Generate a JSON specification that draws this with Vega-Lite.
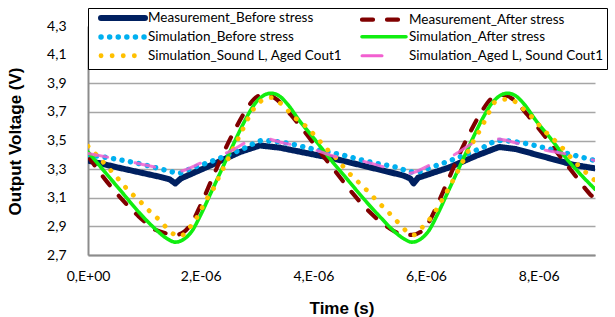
{
  "$schema": "https://vega.github.io/schema/vega-lite/v6.json",
  "width": 507,
  "height": 229,
  "autosize": {"type": "none"},
  "padding": {"left": 88, "top": 26, "right": 20, "bottom": 62},
  "background": "white",
  "config": {"view": {"stroke": null}, "font": "Lato"},
  "datasets": {
    "mb": [
      {"t": 0, "v": 3.36}, {"t": 0.6e-6, "v": 3.305}, {"t": 1.28e-6, "v": 3.246}, {"t": 1.45e-6, "v": 3.228}, {"t": 1.55e-6, "v": 3.2}, {"t": 1.65e-6, "v": 3.235}, {"t": 2.2e-6, "v": 3.33}, {"t": 2.7e-6, "v": 3.42}, {"t": 3.05e-6, "v": 3.465}, {"t": 3.4e-6, "v": 3.45}, {"t": 4.35e-6, "v": 3.375}, {"t": 5.24e-6, "v": 3.29}, {"t": 5.6e-6, "v": 3.255}, {"t": 5.72e-6, "v": 3.235}, {"t": 5.78e-6, "v": 3.2}, {"t": 5.86e-6, "v": 3.24}, {"t": 6.4e-6, "v": 3.31}, {"t": 6.9e-6, "v": 3.395}, {"t": 7.3e-6, "v": 3.455}, {"t": 7.6e-6, "v": 3.44}, {"t": 8.62e-6, "v": 3.33}, {"t": 9e-6, "v": 3.305}
    ],
    "ma": [
      {"t": 0, "v": 3.39}, {"t": 0.3e-6, "v": 3.23}, {"t": 0.6e-6, "v": 3.09}, {"t": 0.9e-6, "v": 2.97}, {"t": 1.2e-6, "v": 2.875}, {"t": 1.4e-6, "v": 2.85}, {"t": 1.55e-6, "v": 2.84}, {"t": 1.7e-6, "v": 2.86}, {"t": 1.85e-6, "v": 2.93}, {"t": 2.0e-6, "v": 3.05}, {"t": 2.2e-6, "v": 3.23}, {"t": 2.4e-6, "v": 3.41}, {"t": 2.6e-6, "v": 3.57}, {"t": 2.8e-6, "v": 3.71}, {"t": 2.95e-6, "v": 3.79}, {"t": 3.1e-6, "v": 3.82}, {"t": 3.25e-6, "v": 3.81}, {"t": 3.4e-6, "v": 3.77}, {"t": 3.6e-6, "v": 3.68}, {"t": 3.85e-6, "v": 3.56}, {"t": 4.1e-6, "v": 3.43}, {"t": 4.4e-6, "v": 3.28}, {"t": 4.7e-6, "v": 3.13}, {"t": 5.0e-6, "v": 3.0}, {"t": 5.3e-6, "v": 2.9}, {"t": 5.5e-6, "v": 2.855}, {"t": 5.75e-6, "v": 2.84}, {"t": 5.9e-6, "v": 2.86}, {"t": 6.05e-6, "v": 2.93}, {"t": 6.2e-6, "v": 3.05}, {"t": 6.4e-6, "v": 3.23}, {"t": 6.6e-6, "v": 3.41}, {"t": 6.8e-6, "v": 3.57}, {"t": 7.0e-6, "v": 3.71}, {"t": 7.15e-6, "v": 3.79}, {"t": 7.3e-6, "v": 3.82}, {"t": 7.45e-6, "v": 3.81}, {"t": 7.6e-6, "v": 3.77}, {"t": 7.8e-6, "v": 3.68}, {"t": 8.05e-6, "v": 3.56}, {"t": 8.3e-6, "v": 3.43}, {"t": 8.6e-6, "v": 3.28}, {"t": 8.9e-6, "v": 3.13}, {"t": 9e-6, "v": 3.09}
    ],
    "sb": [
      {"t": 0, "v": 3.4}, {"t": 0.5e-6, "v": 3.37}, {"t": 1.0e-6, "v": 3.33}, {"t": 1.3e-6, "v": 3.3}, {"t": 1.5e-6, "v": 3.28}, {"t": 1.6e-6, "v": 3.27}, {"t": 1.8e-6, "v": 3.3}, {"t": 2.3e-6, "v": 3.37}, {"t": 2.8e-6, "v": 3.45}, {"t": 3.1e-6, "v": 3.5}, {"t": 3.4e-6, "v": 3.49}, {"t": 4.0e-6, "v": 3.44}, {"t": 4.5e-6, "v": 3.4}, {"t": 5.0e-6, "v": 3.35}, {"t": 5.5e-6, "v": 3.31}, {"t": 5.75e-6, "v": 3.28}, {"t": 5.85e-6, "v": 3.28}, {"t": 6.0e-6, "v": 3.3}, {"t": 6.5e-6, "v": 3.37}, {"t": 7.0e-6, "v": 3.45}, {"t": 7.3e-6, "v": 3.5}, {"t": 7.6e-6, "v": 3.49}, {"t": 8.2e-6, "v": 3.44}, {"t": 8.6e-6, "v": 3.4}, {"t": 9e-6, "v": 3.36}
    ],
    "sa": [
      {"t": 0, "v": 3.42}, {"t": 0.3e-6, "v": 3.28}, {"t": 0.6e-6, "v": 3.14}, {"t": 0.9e-6, "v": 3.0}, {"t": 1.2e-6, "v": 2.88}, {"t": 1.4e-6, "v": 2.815}, {"t": 1.55e-6, "v": 2.79}, {"t": 1.7e-6, "v": 2.81}, {"t": 1.85e-6, "v": 2.87}, {"t": 2.0e-6, "v": 2.98}, {"t": 2.2e-6, "v": 3.15}, {"t": 2.4e-6, "v": 3.32}, {"t": 2.6e-6, "v": 3.49}, {"t": 2.8e-6, "v": 3.65}, {"t": 2.95e-6, "v": 3.75}, {"t": 3.1e-6, "v": 3.81}, {"t": 3.25e-6, "v": 3.83}, {"t": 3.4e-6, "v": 3.81}, {"t": 3.55e-6, "v": 3.75}, {"t": 3.75e-6, "v": 3.64}, {"t": 4.0e-6, "v": 3.52}, {"t": 4.3e-6, "v": 3.37}, {"t": 4.6e-6, "v": 3.23}, {"t": 4.9e-6, "v": 3.09}, {"t": 5.2e-6, "v": 2.96}, {"t": 5.45e-6, "v": 2.86}, {"t": 5.6e-6, "v": 2.815}, {"t": 5.75e-6, "v": 2.79}, {"t": 5.9e-6, "v": 2.81}, {"t": 6.05e-6, "v": 2.87}, {"t": 6.2e-6, "v": 2.98}, {"t": 6.4e-6, "v": 3.15}, {"t": 6.6e-6, "v": 3.32}, {"t": 6.8e-6, "v": 3.49}, {"t": 7.0e-6, "v": 3.65}, {"t": 7.15e-6, "v": 3.75}, {"t": 7.3e-6, "v": 3.81}, {"t": 7.45e-6, "v": 3.83}, {"t": 7.6e-6, "v": 3.81}, {"t": 7.75e-6, "v": 3.75}, {"t": 7.95e-6, "v": 3.64}, {"t": 8.2e-6, "v": 3.52}, {"t": 8.5e-6, "v": 3.37}, {"t": 8.8e-6, "v": 3.24}, {"t": 9e-6, "v": 3.16}
    ],
    "ss": [
      {"t": 0, "v": 3.46}, {"t": 0.36e-6, "v": 3.31}, {"t": 0.54e-6, "v": 3.23}, {"t": 0.72e-6, "v": 3.15}, {"t": 0.91e-6, "v": 3.08}, {"t": 1.11e-6, "v": 3.0}, {"t": 1.28e-6, "v": 2.94}, {"t": 1.47e-6, "v": 2.86}, {"t": 1.63e-6, "v": 2.83}, {"t": 1.82e-6, "v": 2.9}, {"t": 1.96e-6, "v": 2.98}, {"t": 2.09e-6, "v": 3.08}, {"t": 2.23e-6, "v": 3.165}, {"t": 2.33e-6, "v": 3.25}, {"t": 2.46e-6, "v": 3.35}, {"t": 2.7e-6, "v": 3.54}, {"t": 2.94e-6, "v": 3.72}, {"t": 3.05e-6, "v": 3.77}, {"t": 3.26e-6, "v": 3.8}, {"t": 3.47e-6, "v": 3.74}, {"t": 3.67e-6, "v": 3.66}, {"t": 3.88e-6, "v": 3.595}, {"t": 4.06e-6, "v": 3.52}, {"t": 4.24e-6, "v": 3.44}, {"t": 4.42e-6, "v": 3.37}, {"t": 4.59e-6, "v": 3.29}, {"t": 4.77e-6, "v": 3.22}, {"t": 4.98e-6, "v": 3.14}, {"t": 5.15e-6, "v": 3.07}, {"t": 5.33e-6, "v": 3.0}, {"t": 5.51e-6, "v": 2.925}, {"t": 5.69e-6, "v": 2.855}, {"t": 5.78e-6, "v": 2.84}, {"t": 5.95e-6, "v": 2.9}, {"t": 6.1e-6, "v": 2.967}, {"t": 6.25e-6, "v": 3.06}, {"t": 6.45e-6, "v": 3.2}, {"t": 6.65e-6, "v": 3.35}, {"t": 6.85e-6, "v": 3.5}, {"t": 6.99e-6, "v": 3.595}, {"t": 7.11e-6, "v": 3.69}, {"t": 7.23e-6, "v": 3.77}, {"t": 7.48e-6, "v": 3.79}, {"t": 7.7e-6, "v": 3.73}, {"t": 7.89e-6, "v": 3.66}, {"t": 8.07e-6, "v": 3.58}, {"t": 8.26e-6, "v": 3.51}, {"t": 8.44e-6, "v": 3.44}, {"t": 8.62e-6, "v": 3.36}, {"t": 8.8e-6, "v": 3.29}, {"t": 9e-6, "v": 3.22}
    ],
    "sp": [
      {"t": 0, "v": 3.41}, {"t": 0.4e-6, "v": 3.38}, {"t": 1.0e-6, "v": 3.33}, {"t": 1.4e-6, "v": 3.295}, {"t": 1.55e-6, "v": 3.28}, {"t": 2.05e-6, "v": 3.35}, {"t": 2.5e-6, "v": 3.42}, {"t": 3.05e-6, "v": 3.52}, {"t": 3.5e-6, "v": 3.48}, {"t": 3.94e-6, "v": 3.445}, {"t": 4.42e-6, "v": 3.385}, {"t": 4.83e-6, "v": 3.36}, {"t": 5.3e-6, "v": 3.31}, {"t": 5.68e-6, "v": 3.27}, {"t": 6.13e-6, "v": 3.34}, {"t": 6.5e-6, "v": 3.4}, {"t": 6.96e-6, "v": 3.5}, {"t": 7.26e-6, "v": 3.51}, {"t": 7.63e-6, "v": 3.48}, {"t": 8.15e-6, "v": 3.43}, {"t": 8.56e-6, "v": 3.4}, {"t": 9e-6, "v": 3.36}
    ]
  },
  "encoding": {
    "x": {
      "field": "t", "type": "quantitative", "title": "Time (s)",
      "scale": {"domain": [0, 9e-6], "nice": false, "zero": false},
      "axis": {
        "values": [0, 2e-6, 4e-6, 6e-6, 8e-6],
        "labelExpr": "datum.value == 0 ? '0,E+00' : round(datum.value * 1e6) + ',E-06'",
        "ticks": false, "grid": false, "labelFlush": false,
        "domainColor": "#8c8c8c", "domainWidth": 2,
        "labelFont": "Lato", "labelFontSize": 14, "labelColor": "#000", "labelPadding": 14,
        "titleFont": "Liberation Sans", "titleFontSize": 17, "titleFontWeight": "bold", "titleColor": "#000",
        "titleY": 58, "titleBaseline": "alphabetic"
      }
    },
    "y": {
      "field": "v", "type": "quantitative", "title": "Output Voltage (V)",
      "scale": {"domain": [2.7, 4.3], "nice": false, "zero": false},
      "axis": {
        "values": [2.7, 2.9, 3.1, 3.3, 3.5, 3.7, 3.9, 4.1, 4.3],
        "labelExpr": "replace(format(datum.value, '.1f'), '.', ',')",
        "ticks": false, "grid": true, "gridColor": "#a6a6a6", "gridWidth": 1.5,
        "domainColor": "#8c8c8c", "domainWidth": 2,
        "labelFont": "Lato", "labelFontSize": 14, "labelColor": "#000", "labelPadding": 22,
        "titleFont": "Liberation Sans", "titleFontSize": 17, "titleFontWeight": "bold", "titleColor": "#000",
        "titleX": -73, "titleY": 115, "titleAngle": -90, "titleAlign": "center", "titleBaseline": "middle"
      }
    },
    "color": {
      "field": "series", "type": "nominal",
      "scale": {
        "domain": ["Measurement_Before stress", "Simulation_Before stress", "Simulation_Sound L, Aged Cout1", "Measurement_After stress", "Simulation_After stress", "Simulation_Aged L, Sound Cout1"],
        "range": ["#002060", "#00b0f0", "#ffc000", "#800000", "#11ee11", "#f25fd0"]
      },
      "legend": {
        "title": null, "orient": "none", "legendX": 0, "legendY": -18,
        "columns": 2, "columnPadding": 9, "rowPadding": -4, "padding": 3, "gridAlign": "all",
        "fillColor": "white", "strokeColor": "#000",
        "symbolType": "M-5.5,0H5.5", "symbolSize": 64, "symbolOffset": 25,
        "labelFont": "Lato", "labelFontSize": 13.5, "labelColor": "#000", "labelLimit": 300, "labelOffset": 18,
        "encode": {"symbols": {"update": {"strokeCap": {"value": "round"}}}}
      }
    },
    "strokeDash": {
      "field": "series", "type": "nominal",
      "scale": {
        "domain": ["Measurement_Before stress", "Simulation_Before stress", "Simulation_Sound L, Aged Cout1", "Measurement_After stress", "Simulation_After stress", "Simulation_Aged L, Sound Cout1"],
        "range": [[1, 0], [0.1, 8.5], [0.1, 11], [11, 14], [1, 0], [20, 28]]
      }
    },
    "strokeWidth": {
      "field": "series", "type": "nominal",
      "scale": {
        "domain": ["Measurement_Before stress", "Simulation_Before stress", "Simulation_Sound L, Aged Cout1", "Measurement_After stress", "Simulation_After stress", "Simulation_Aged L, Sound Cout1"],
        "range": [6, 3, 7.5, 7, 2, 8]
      }
    }
  },
  "layer": [
    {"data": {"name": "mb"}, "transform": [{"calculate": "'Measurement_Before stress'", "as": "series"}], "mark": {"type": "line", "strokeCap": "round", "strokeJoin": "round", "clip": true}},
    {"data": {"name": "ma"}, "transform": [{"calculate": "'Measurement_After stress'", "as": "series"}], "mark": {"type": "line", "strokeCap": "round", "interpolate": "monotone", "clip": true}},
    {"data": {"name": "sb"}, "transform": [{"calculate": "'Simulation_Before stress'", "as": "series"}], "mark": {"type": "line", "strokeCap": "round", "interpolate": "monotone", "clip": true}},
    {"data": {"name": "sa"}, "transform": [{"calculate": "'Simulation_After stress'", "as": "series"}], "mark": {"type": "line", "strokeCap": "round", "interpolate": "monotone", "clip": true}},
    {"data": {"name": "ss"}, "transform": [{"calculate": "'Simulation_Sound L, Aged Cout1'", "as": "series"}], "mark": {"type": "line", "strokeCap": "round", "interpolate": "monotone", "clip": true}},
    {"data": {"name": "sp"}, "transform": [{"calculate": "'Simulation_Aged L, Sound Cout1'", "as": "series"}], "mark": {"type": "line", "strokeCap": "round", "interpolate": "monotone", "opacity": 0.85, "clip": true}}
  ]
}
